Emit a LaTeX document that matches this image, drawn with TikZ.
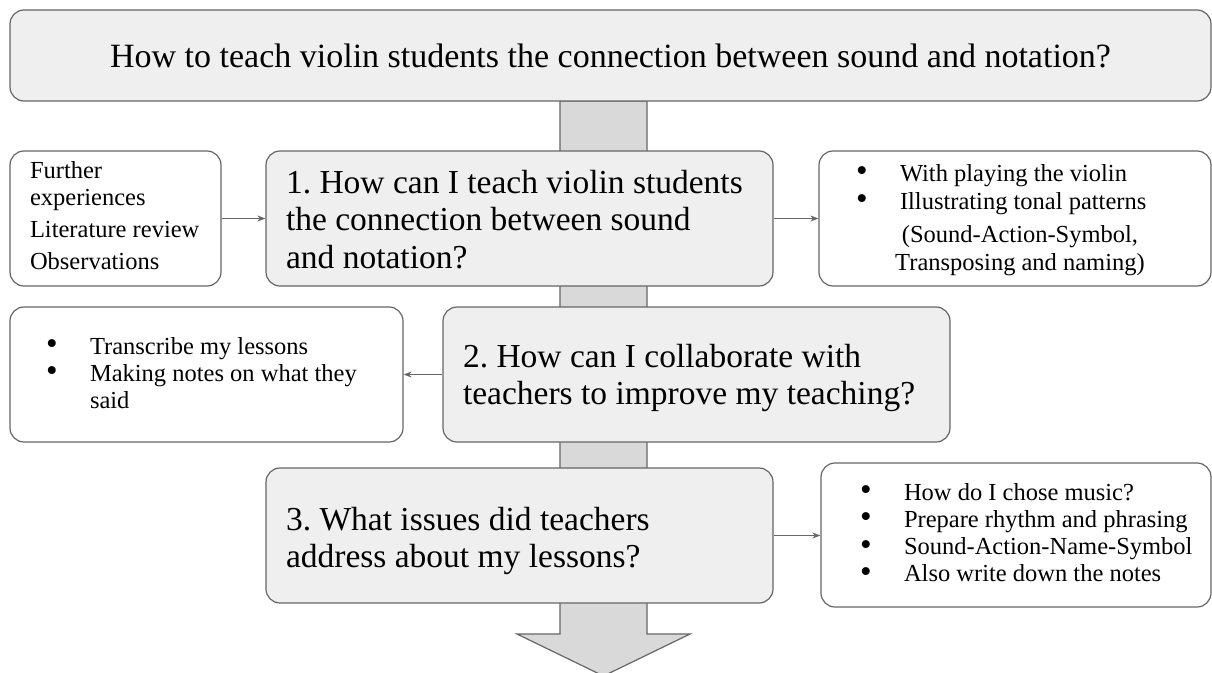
\documentclass[tikz,border=0pt]{standalone}
\usepackage{fontspec}
\setmainfont{Liberation Serif}
\usetikzlibrary{positioning,arrows.meta}
\definecolor{boxgray}{RGB}{239,239,239}
\definecolor{linegray}{RGB}{102,102,102}
\definecolor{flowgray}{RGB}{217,217,217}
\newcommand{\bitem}[1]{\mbox{\makebox[43pt][l]{\hspace*{-1pt}\raisebox{-0.5pt}{\scalebox{1.35}{\textbullet}}}#1}}
\frenchspacing

\begin{document}
\begin{tikzpicture}[x=1pt, y=-1pt,
    every node/.style={font=\fontsize{24.5}{27}\selectfont},
    question/.style={draw=linegray, fill=boxgray, rounded corners=14pt, line width=1.2pt, minimum width=507pt, text width=467pt, align=flush left, inner sep=0pt, font=\fontsize{33.5}{37.5}\selectfont},
    note/.style={draw=linegray, fill=white, rounded corners=14pt, line width=1.2pt, align=flush left, inner sep=0pt},
    link/.style={-{Stealth[length=8pt,width=6pt]}, linegray, line width=1pt}]
    \useasboundingbox (0,0) rectangle (1212,672);

    % Main flow arrow
    \draw[draw=linegray, fill=flowgray, line width=1.2pt] (560,101) -- (560,634) -- (517,634) -- (603.5,676) -- (690,634) -- (647,634) -- (647,101) -- cycle;

    % Research question
    \node[draw=linegray, fill=boxgray, rounded corners=14pt, line width=1.2pt, minimum width=1201pt, minimum height=91pt, font=\fontsize{34}{40}\selectfont] (main) at (610.5,55.5) {How to teach violin students the connection between sound and notation?};

    % Sub questions
    \node[question, text height=42pt, text depth=93pt] (q1) at (519.5,218.5) {\mbox{1. How can I teach violin students}\\the connection between sound\\and notation?};
    \node[question, text height=60pt, text depth=75pt] (q2) at (696.5,374.5) {2. How can I collaborate with\\\mbox{teachers to improve my teaching?}};
    \node[question, text height=62pt, text depth=73pt] (q3) at (519.5,535.5) {3. What issues did teachers\\address about my lessons?};

    % Notes
    \node[note, minimum width=211pt, text width=171pt, text height=27pt, text depth=108pt] (l1) at (115.5,218.5) {Further\\experiences\\[5pt]\mbox{Literature review}\\[5pt]Observations};
    \node[note, minimum width=392pt, text width=316pt, text height=30pt, text depth=105pt, font=\fontsize{24.5}{28}\selectfont] (r1) at (1015,218.5) {\bitem{With playing the violin}\\\bitem{Illustrating tonal patterns}\\[5pt]\makebox[\linewidth]{\hspace*{10pt}(Sound-Action-Symbol,}\\\makebox[\linewidth]{\hspace*{10pt}Transposing and naming)}};
    \node[note, minimum width=393pt, text width=319pt, text height=47pt, text depth=88pt] (l2) at (206.5,374.5) {\bitem{Transcribe my lessons}\\\bitem{Making notes on what they}\\\hspace*{43pt}said};
    \node[note, minimum width=390pt, text width=310pt, text height=37pt, text depth=107pt, font=\fontsize{24.5}{27.3}\selectfont] (r3) at (1016,535) {\bitem{How do I chose music?}\\\bitem{Prepare rhythm and phrasing}\\\bitem{Sound-Action-Name-Symbol}\\\bitem{Also write down the notes}};

    % Connectors
    \draw[link] (l1) -- (q1);
    \draw[link] (q1) -- (r1);
    \draw[link] (q2) -- (l2);
    \draw[link] (q3.east) -- (q3.east -| r3.west);
\end{tikzpicture}
\end{document}
